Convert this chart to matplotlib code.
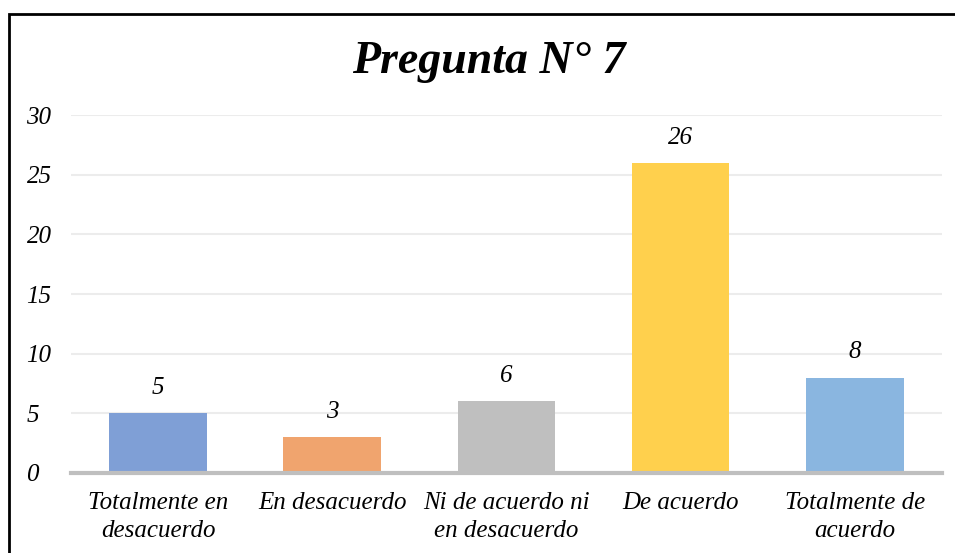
import matplotlib.pyplot as plt
from matplotlib.patches import Rectangle
import numpy as np

categorias = ['Totalmente en\ndesacuerdo', 'En desacuerdo', 'Ni de acuerdo ni\nen desacuerdo',
              'De acuerdo', 'Totalmente de\nacuerdo']
valores = [5, 3, 6, 26, 8]
colores = ['#7f9fd6', '#f0a46e', '#bfbfbf', '#ffd04d', '#8ab6e0']

plt.rcParams['font.family'] = ['Liberation Serif', 'DejaVu Serif']

fig = plt.figure(figsize=(9.55, 5.53), dpi=100)
ax = fig.add_axes([0.0743, 0.1447, 0.912, 0.647])

x = np.arange(len(categorias))
bars = ax.bar(x, valores, width=0.56, color=colores, zorder=3)
for b, v in zip(bars, valores):
    ax.text(b.get_x() + b.get_width() / 2, v + 1.2, str(v), ha='center', va='bottom',
            fontsize=18, style='italic')

ax.set_xlim(-0.5, len(categorias) - 0.5)
ax.set_ylim(0, 30)
ax.set_yticks(range(0, 31, 5))
ax.set_xticks(x)
ax.set_xticklabels(categorias, fontsize=18, style='italic', linespacing=1.3)
ax.tick_params(axis='y', labelsize=18, length=0, pad=32)
ax.tick_params(axis='x', length=0, pad=14)
for lab in ax.get_yticklabels():
    lab.set_style('italic')
    lab.set_horizontalalignment('left')
ax.grid(axis='y', color='#ececec', linewidth=1.5, zorder=0)
for s in ['top', 'right', 'left']:
    ax.spines[s].set_visible(False)
ax.spines['bottom'].set_color('#bfbfbf')
ax.spines['bottom'].set_linewidth(3)
ax.spines['bottom'].set_zorder(4)

fig.text(0.512, 0.888, 'Pregunta N° 7', ha='center', va='center', fontsize=33,
         weight='bold', style='italic')

# marco del gráfico
fig.patches.append(Rectangle((8.5 / 955, -0.1), 1.2, 1.1 - 14.5 / 553,
                             transform=fig.transFigure, fill=False, edgecolor='black',
                             linewidth=2, zorder=10))

fig.savefig('out.png', dpi=100)
